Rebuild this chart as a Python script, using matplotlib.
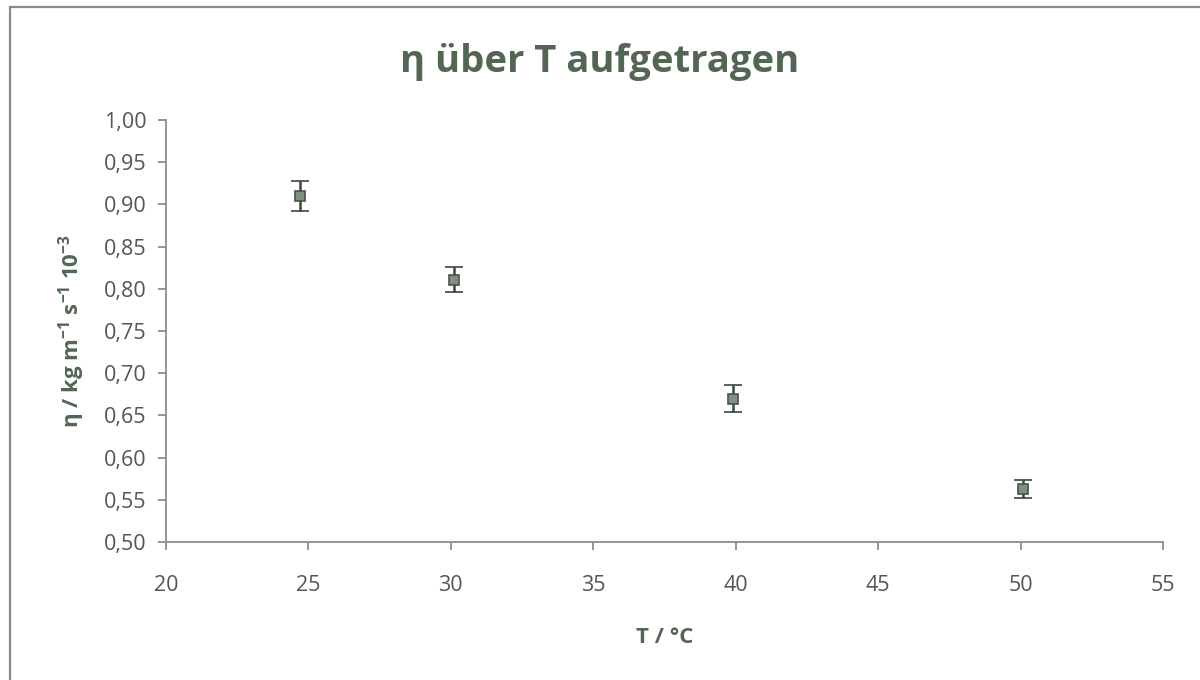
import matplotlib
matplotlib.use("Agg")
import matplotlib.pyplot as plt
from matplotlib.ticker import FuncFormatter, MultipleLocator
from matplotlib.patches import Rectangle

# Data
temperature = [24.7, 30.1, 39.9, 50.1]
viscosity = [0.910, 0.811, 0.670, 0.563]
viscosity_err = [0.018, 0.015, 0.016, 0.011]

title_text = "η über T aufgetragen"
x_label = "T / °C"
y_label = r"η / kg m$^{\mathregular{-1}}$ s$^{\mathregular{-1}}$ 10$^{\mathregular{-3}}$"

plt.rcParams['font.family'] = ['Open Sans', 'DejaVu Sans']
plt.rcParams['mathtext.fontset'] = 'custom'
plt.rcParams['mathtext.rm'] = 'Open Sans'
plt.rcParams['mathtext.bf'] = 'Open Sans:bold'

fig = plt.figure(figsize=(12, 6.8), dpi=100)
fig.patch.set_facecolor('white')

# outer chart frame
fig.add_artist(Rectangle((10 / 1200, -0.05), 1.2, 1 - 7 / 680 + 0.05,
                         transform=fig.transFigure, fill=False,
                         edgecolor='#8a8a8a', linewidth=1.6))

ax = fig.add_axes([166 / 1200, 1 - 542 / 680, (1163 - 166) / 1200, (542 - 120) / 680])

ax.errorbar(temperature, viscosity, yerr=viscosity_err, fmt='s',
            markersize=7, markerfacecolor='#7f9080', markeredgecolor='#4a524a',
            markeredgewidth=1.2, ecolor='#3f443f', elinewidth=1.8,
            capsize=6.5, capthick=1.8, zorder=3)

ax.set_xlim(20, 55)
ax.set_ylim(0.50, 1.00)
ax.xaxis.set_major_locator(MultipleLocator(5))
ax.yaxis.set_major_locator(MultipleLocator(0.05))
ax.xaxis.set_major_formatter(FuncFormatter(lambda v, p: f"{v:.0f}"))
ax.yaxis.set_major_formatter(FuncFormatter(lambda v, p: f"{v:.2f}".replace('.', ',')))

for s in ['top', 'right']:
    ax.spines[s].set_visible(False)
for s in ['left', 'bottom']:
    ax.spines[s].set_color('#8c8c8c')
    ax.spines[s].set_linewidth(1.3)

ax.tick_params(axis='both', direction='out', length=6, width=1.3,
               color='#8c8c8c', labelcolor='#555555', labelsize=15.5)
ax.tick_params(axis='x', pad=18)
ax.tick_params(axis='y', pad=8)

title_color = '#536653'
fig.text(0.5, 1 - 62 / 680, title_text, ha='center', va='center',
         fontsize=27.5, fontweight='bold', color=title_color)
ax.set_xlabel(x_label, fontsize=16, fontweight='bold', color=title_color, labelpad=22)
ax.set_ylabel(y_label, fontsize=16, fontweight='bold', color=title_color, labelpad=12)

fig.savefig('out.png', dpi=100, facecolor='white')
